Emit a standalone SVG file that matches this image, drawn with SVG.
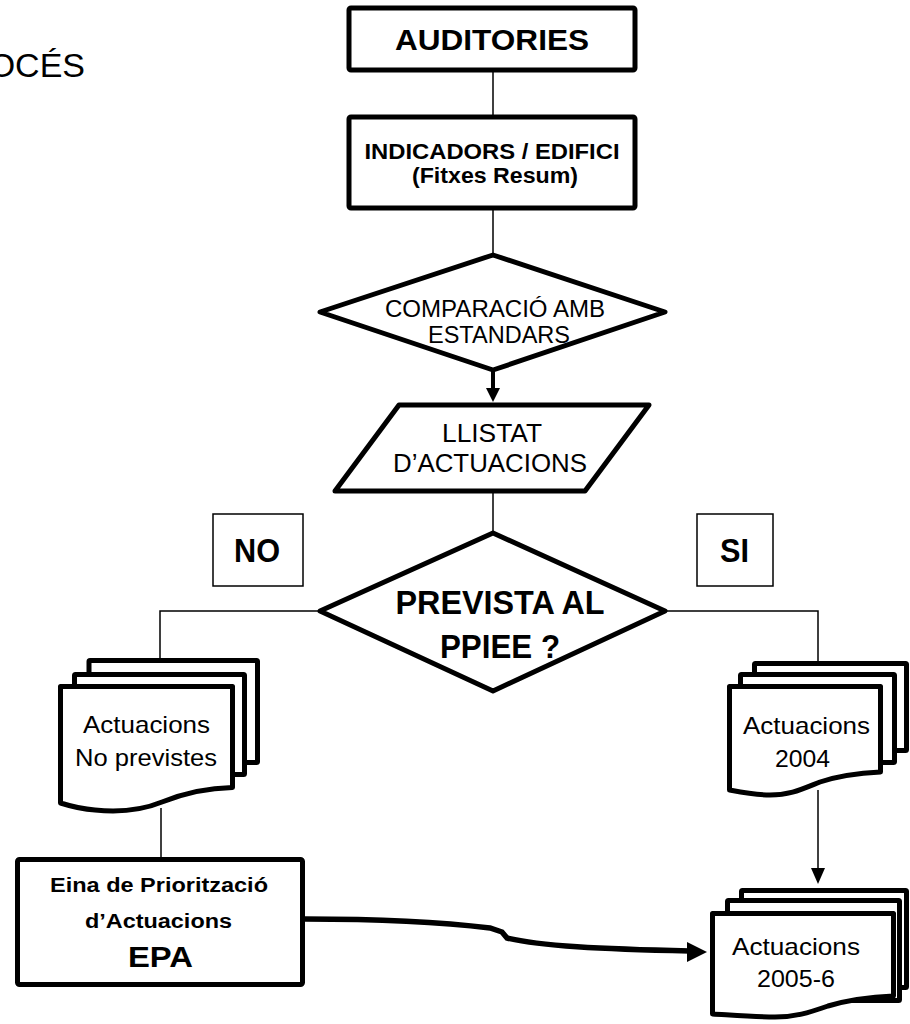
<svg xmlns="http://www.w3.org/2000/svg" width="910" height="1024" viewBox="0 0 910 1024">
<defs>
<style>
.t{font-family:"Liberation Sans",Arial,sans-serif;fill:#000;text-anchor:middle}
.b{font-weight:bold}
.box{fill:#fff;stroke:#000;stroke-width:5;stroke-linejoin:round}
.thin{fill:#fff;stroke:#000;stroke-width:1.5}
.ln{fill:none;stroke:#000;stroke-width:1.5}
</style>
</defs>
<rect width="910" height="1024" fill="#fff"/>
<text class="t" x="85" y="77" font-size="34" style="text-anchor:end">OCÉS</text>

<g id="connectors">
<line class="ln" x1="493" y1="70" x2="493" y2="117"/>
<line class="ln" x1="493" y1="208" x2="493" y2="255"/>
<line x1="493" y1="370" x2="493" y2="390" stroke="#000" stroke-width="4"/>
<polygon points="486,388 500,388 493,402" fill="#000"/>
<line class="ln" x1="493" y1="491" x2="493" y2="533"/>
<polyline class="ln" points="320,611 160,611 160,660"/>
<polyline class="ln" points="665,611 818,611 818,663"/>
<line class="ln" x1="161" y1="808" x2="161" y2="859"/>
<line class="ln" x1="818" y1="790" x2="818" y2="870"/>
<polygon points="811,868 825,868 818,884" fill="#000"/>
<path d="M305,919 C380,919 440,922 490,928 L502,932 L507,938 C540,946 600,949 690,951" fill="none" stroke="#000" stroke-width="5.5"/>
<polygon points="687,942 707,952 687,962" fill="#000"/>
</g>

<g id="auditories">
<rect class="box" x="349" y="8" width="286" height="62" rx="2"/>
<text class="t b" x="492" y="50" font-size="29" textLength="194" lengthAdjust="spacingAndGlyphs">AUDITORIES</text>
</g>

<g id="indicadors">
<rect class="box" x="349" y="117" width="286" height="91" rx="2"/>
<text class="t b" x="492" y="159" font-size="22" textLength="255" lengthAdjust="spacingAndGlyphs">INDICADORS / EDIFICI</text>
<text class="t b" x="495" y="183" font-size="22" textLength="166" lengthAdjust="spacingAndGlyphs">(Fitxes Resum)</text>
</g>

<g id="comparacio">
<polygon class="box" points="493,255 665,312 493,370 320,312"/>
<text class="t" x="495" y="317" font-size="24" textLength="220" lengthAdjust="spacingAndGlyphs">COMPARACIÓ AMB</text>
<text class="t" x="499" y="343" font-size="24" textLength="142" lengthAdjust="spacingAndGlyphs">ESTANDARS</text>
</g>

<g id="llistat">
<polygon class="box" points="399,405 649,405 585,491 335,491"/>
<text class="t" x="492" y="442" font-size="26" textLength="100" lengthAdjust="spacingAndGlyphs">LLISTAT</text>
<text class="t" x="490" y="472" font-size="26" textLength="194" lengthAdjust="spacingAndGlyphs">D’ACTUACIONS</text>
</g>

<g id="no">
<rect class="thin" x="213" y="514" width="90" height="72"/>
<text class="t b" x="257" y="562" font-size="33" textLength="46" lengthAdjust="spacingAndGlyphs">NO</text>
</g>
<g id="si">
<rect class="thin" x="697" y="514" width="76" height="72"/>
<text class="t b" x="734.5" y="562" font-size="33" textLength="29" lengthAdjust="spacingAndGlyphs">SI</text>
</g>

<g id="prevista">
<polygon class="box" points="493,533 665,611 493,691 320,611"/>
<text class="t b" x="500" y="614" font-size="34" textLength="209" lengthAdjust="spacingAndGlyphs">PREVISTA AL</text>
<text class="t b" x="500" y="658" font-size="34" textLength="120" lengthAdjust="spacingAndGlyphs">PPIEE ?</text>
</g>

<g id="no-previstes">
<rect class="box" x="89" y="660.5" width="168.5" height="102" rx="1"/>
<rect class="box" x="74.5" y="674.5" width="170" height="100" rx="1"/>
<path class="box" d="M60.5,686.5 H232.5 V787.5 C205,788 182,794 162,802 C140,811 115,812 95,810 C80,809 70,806 60.5,803 Z"/>
<text class="t" x="146.5" y="733" font-size="24" textLength="127" lengthAdjust="spacingAndGlyphs">Actuacions</text>
<text class="t" x="146" y="766" font-size="24" textLength="142" lengthAdjust="spacingAndGlyphs">No previstes</text>
</g>

<g id="act2004">
<rect class="box" x="754.5" y="663.5" width="152" height="87" rx="1"/>
<rect class="box" x="740.5" y="674.5" width="154" height="88" rx="1"/>
<path class="box" d="M729.5,686.5 H880.5 V772 C860,773 838,776 820,782 C800,790 790,795 770,795 C755,795 740,792 729.5,790 Z"/>
<text class="t" x="806.5" y="734" font-size="24" textLength="127" lengthAdjust="spacingAndGlyphs">Actuacions</text>
<text class="t" x="802.5" y="767" font-size="24" textLength="55" lengthAdjust="spacingAndGlyphs">2004</text>
</g>

<g id="act2005">
<rect class="box" x="741.5" y="890.5" width="165" height="97" rx="1"/>
<rect class="box" x="727.5" y="900.5" width="172" height="100" rx="1"/>
<path class="box" d="M712.5,913.5 H893.5 V996 C870,997 848,1000 828,1006 C808,1013 795,1017 775,1017 C755,1017 730,1015 712.5,1014 Z"/>
<text class="t" x="796" y="955" font-size="24" textLength="128" lengthAdjust="spacingAndGlyphs">Actuacions</text>
<text class="t" x="796" y="987" font-size="24" textLength="78" lengthAdjust="spacingAndGlyphs">2005-6</text>
</g>

<g id="epa">
<rect class="box" x="17.5" y="859.5" width="285" height="125" rx="2"/>
<text class="t b" x="159" y="892" font-size="20" textLength="218" lengthAdjust="spacingAndGlyphs">Eina de Priorització</text>
<text class="t b" x="158.5" y="928" font-size="20" textLength="147" lengthAdjust="spacingAndGlyphs">d’Actuacions</text>
<text class="t b" x="160.5" y="967" font-size="30" textLength="65" lengthAdjust="spacingAndGlyphs">EPA</text>
</g>
</svg>
